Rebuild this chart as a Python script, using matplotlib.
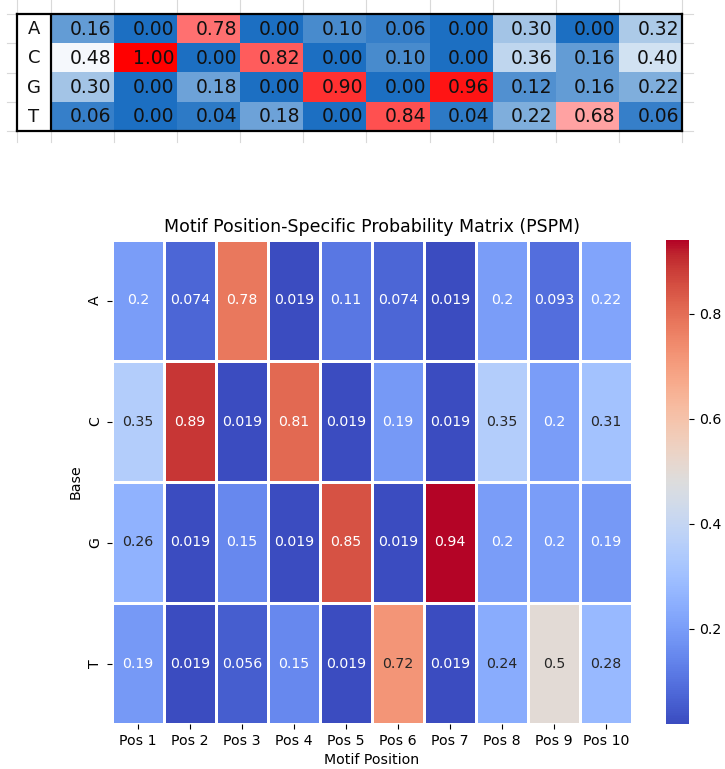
import matplotlib
matplotlib.use("Agg")
import matplotlib.pyplot as plt
from matplotlib.colors import LinearSegmentedColormap
import numpy as np
import pandas as pd
import seaborn as sns

# data: spreadsheet table (top) and PSPM heatmap (bottom)
bases = ["A", "C", "G", "T"]
positions = ["Pos 1", "Pos 2", "Pos 3", "Pos 4", "Pos 5",
             "Pos 6", "Pos 7", "Pos 8", "Pos 9", "Pos 10"]

table_A = [0.16, 0.00, 0.78, 0.00, 0.10, 0.06, 0.00, 0.30, 0.00, 0.32]
table_C = [0.48, 1.00, 0.00, 0.82, 0.00, 0.10, 0.00, 0.36, 0.16, 0.40]
table_G = [0.30, 0.00, 0.18, 0.00, 0.90, 0.00, 0.96, 0.12, 0.16, 0.22]
table_T = [0.06, 0.00, 0.04, 0.18, 0.00, 0.84, 0.04, 0.22, 0.68, 0.06]

pspm_A = [0.2, 0.074, 0.78, 0.019, 0.11, 0.074, 0.019, 0.2, 0.093, 0.22]
pspm_C = [0.35, 0.89, 0.019, 0.81, 0.019, 0.19, 0.019, 0.35, 0.2, 0.31]
pspm_G = [0.26, 0.019, 0.15, 0.019, 0.85, 0.019, 0.94, 0.2, 0.2, 0.19]
pspm_T = [0.19, 0.019, 0.056, 0.15, 0.019, 0.72, 0.019, 0.24, 0.5, 0.28]

W, H = 725, 769
fig = plt.figure(figsize=(W / 100, H / 100), dpi=100)


def px_axes(left, top, right, bottom):
    # axes placed with pixel edges (origin top-left)
    return fig.add_axes([left / W, 1 - bottom / H, (right - left) / W, (bottom - top) / H])


# ---- spreadsheet table ----
tbl_left, tbl_right, tbl_top, tbl_bottom = 17, 682, 14, 131
lab_w = 34.0
col_w = (tbl_right - tbl_left - lab_w) / len(positions)
lw_frac = lab_w / col_w

table = np.array([table_A, table_C, table_G, table_T])
xl_cmap = LinearSegmentedColormap.from_list("xl3", ["#1C6FC2", "#FFFFFF", "#FF0000"])

# faint spreadsheet gridlines around the table
bg = fig.add_axes([0, 0, 1, 1], zorder=0)
bg.set_xlim(0, W)
bg.set_ylim(H, 0)
bg.axis("off")
row_h = (tbl_bottom - tbl_top) / len(bases)
col_edges = [tbl_left, tbl_left + lab_w] + [tbl_left + lab_w + col_w * (i + 1) for i in range(len(positions))]
row_edges = [tbl_top + row_h * i for i in range(len(bases) + 1)]
for xe in col_edges:
    bg.plot([xe, xe], [0, tbl_top], color="#d9d9d9", lw=0.8)
    bg.plot([xe, xe], [tbl_bottom, tbl_bottom + 11], color="#d9d9d9", lw=0.8)
for ye in row_edges:
    bg.plot([7, tbl_left], [ye, ye], color="#d9d9d9", lw=0.8)
    bg.plot([tbl_right, tbl_right + 11], [ye, ye], color="#d9d9d9", lw=0.8)

ax_t = px_axes(tbl_left, tbl_top, tbl_right, tbl_bottom)
ax_t.imshow(table, cmap=xl_cmap, vmin=0, vmax=1, aspect="auto",
            extent=[lw_frac, lw_frac + len(positions), len(bases), 0], interpolation="nearest")
ax_t.set_xlim(0, lw_frac + len(positions))
ax_t.set_ylim(len(bases), 0)
for r, b in enumerate(bases):
    ax_t.text(lw_frac / 2, r + 0.52, b, ha="center", va="center", fontsize=13, color="#111111")
    for c in range(len(positions)):
        ax_t.text(lw_frac + c + 0.95, r + 0.52, f"{table[r, c]:.2f}", ha="right", va="center",
                  fontsize=13.5, color="#111111")
ax_t.axvline(lw_frac, color="black", lw=1.6)
ax_t.set_xticks([])
ax_t.set_yticks([])
for s in ax_t.spines.values():
    s.set_linewidth(1.6)

# ---- seaborn heatmap ----
pspm = pd.DataFrame([pspm_A, pspm_C, pspm_G, pspm_T], index=bases, columns=positions)
plt.rcParams["font.size"] = 10.2

ax_h = px_axes(112, 240, 632, 724)
ax_c = px_axes(666, 240, 689, 724)
sns.heatmap(pspm, ax=ax_h, cbar_ax=ax_c, cmap="coolwarm", annot=True,
            linewidths=0.75, linecolor="white", annot_kws={"fontsize": 10.2})
ax_h.set_title("Motif Position-Specific Probability Matrix (PSPM)", fontsize=12.5)
ax_h.set_xlabel("Motif Position", fontsize=10.2)
ax_h.set_ylabel("Base", fontsize=10.2)
ax_h.tick_params(labelsize=10.2)
ax_c.tick_params(labelsize=10.2)

fig.savefig("out.png", dpi=100)
